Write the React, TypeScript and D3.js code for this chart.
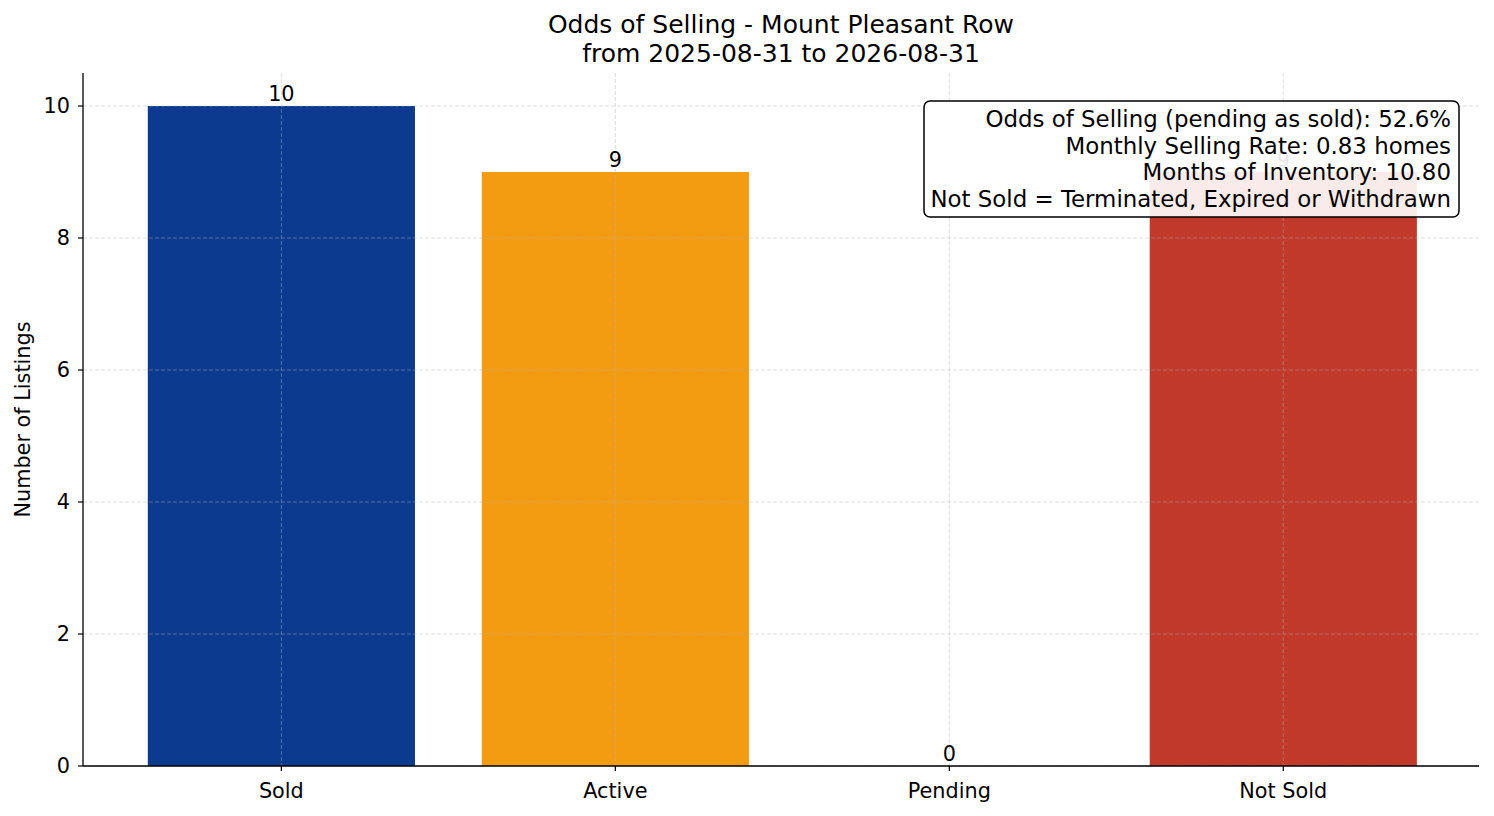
import React from "react";
import * as d3 from "d3";

const categories = ["Sold", "Active", "Pending", "Not Sold"];
const counts = [10, 9, 0, 9];
const barColors = ["#0b3a8f", "#f39c12", "#2e7d32", "#c0392b"];
const yTicks = [0, 2, 4, 6, 8, 10];
const titleLines = ["Odds of Selling - Mount Pleasant Row", "from 2025-08-31 to 2026-08-31"];
const infoLines = [
  "Odds of Selling (pending as sold): 52.6%",
  "Monthly Selling Rate: 0.83 homes",
  "Months of Inventory: 10.80",
  "Not Sold = Terminated, Expired or Withdrawn",
];
const yLabel = "Number of Listings";

const W = 1494;
const H = 816;
const M = { left: 83, right: 1479, top: 73, bottom: 766 };
const FONT = "'DejaVu Sans', sans-serif";

export default function App() {
  const x = d3.scaleLinear().domain([-0.594, categories.length - 1 + 0.586]).range([M.left, M.right]);
  const y = d3.scaleLinear().domain([0, 10.5]).range([M.bottom, M.top]);
  const bw = x(0.8) - x(0);

  return (
    <svg width={W} height={H} style={{ position: "absolute", left: 0, top: 0, background: "#fff" }} fontFamily={FONT}>
      <rect x={0} y={0} width={W} height={H} fill="#fff" />
      {/* bars */}
      {categories.map((c, i) => (
        <rect key={c} x={x(i) - bw / 2} y={y(counts[i])} width={bw} height={y(0) - y(counts[i])} fill={barColors[i]} />
      ))}
      {/* grid */}
      {yTicks.map((t) => (
        <line key={"gy" + t} x1={M.left} x2={M.right} y1={y(t)} y2={y(t)} stroke="#b0b0b0" strokeOpacity={0.55} strokeWidth={0.8} strokeDasharray="4,2" />
      ))}
      {categories.map((c, i) => (
        <line key={"gx" + c} x1={x(i)} x2={x(i)} y1={M.top} y2={M.bottom} stroke="#b0b0b0" strokeOpacity={0.55} strokeWidth={0.8} strokeDasharray="4,2" />
      ))}
      {/* bar labels */}
      {categories.map((c, i) => (
        <text key={"l" + c} x={x(i)} y={y(counts[i]) - 5} textAnchor="middle" fontSize={20.8} fill="#000">
          {counts[i]}
        </text>
      ))}
      {/* spines */}
      <line x1={M.left} x2={M.left} y1={M.top} y2={M.bottom} stroke="#000" strokeWidth={1.3} />
      <line x1={M.left} x2={M.right} y1={M.bottom} y2={M.bottom} stroke="#000" strokeWidth={1.3} />
      {/* y ticks */}
      {yTicks.map((t) => (
        <g key={"yt" + t}>
          <line x1={M.left - 5} x2={M.left} y1={y(t)} y2={y(t)} stroke="#000" strokeWidth={1.2} />
          <text x={M.left - 13} y={y(t)} dy="0.36em" textAnchor="end" fontSize={20.8} fill="#000">
            {t}
          </text>
        </g>
      ))}
      {/* x ticks */}
      {categories.map((c, i) => (
        <g key={"xt" + c}>
          <line x1={x(i)} x2={x(i)} y1={M.bottom} y2={M.bottom + 5} stroke="#000" strokeWidth={1.2} />
          <text x={x(i)} y={M.bottom + 32} textAnchor="middle" fontSize={20.8} fill="#000">
            {c}
          </text>
        </g>
      ))}
      {/* y label */}
      <text transform={`translate(30, ${(M.top + M.bottom) / 2}) rotate(-90)`} textAnchor="middle" fontSize={20.8} fill="#000">
        {yLabel}
      </text>
      {/* title */}
      {titleLines.map((t, i) => (
        <text key={"t" + i} x={(M.left + M.right) / 2} y={32.5 + i * 29.5} textAnchor="middle" fontSize={25} fill="#000">
          {t}
        </text>
      ))}
      {/* info box */}
      <rect x={924} y={101} width={535} height={116} rx={6} ry={6} fill="#fff" fillOpacity={0.9} stroke="#000" strokeWidth={1.5} />
      {infoLines.map((t, i) => (
        <text key={"i" + i} x={1451} y={127 + i * 26.7} textAnchor="end" fontSize={22.9} fill="#000">
          {t}
        </text>
      ))}
    </svg>
  );
}
